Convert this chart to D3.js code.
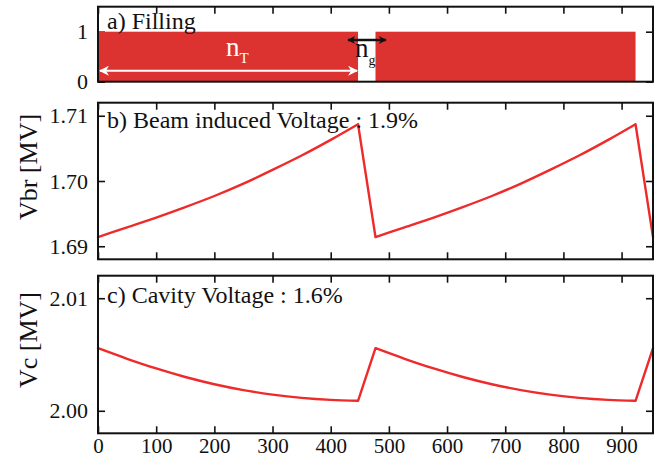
<!DOCTYPE html>
<html>
<head>
<meta charset="utf-8">
<script src="https://cdn.jsdelivr.net/npm/d3@7"></script>
</head>
<body style="margin:0">
<svg id="chart" width="663" height="461"></svg>
<script>
// bunch trains (start, end) in bunch index
var trainStart = [ 0, 477 ],
    trainEnd   = [ 447, 924 ],
    xTicks     = [ 0, 100, 200, 300, 400, 500, 600, 700, 800, 900 ];

// bunch index sampled along both trains
var bunchIndex = [ 0, 50, 100, 150, 200, 250, 300, 350, 400, 447,
                   477, 527, 577, 627, 677, 727, 777, 827, 877, 924, 954 ];

// beam induced voltage [MV]
var vbr = [ 1.6914, 1.6929, 1.6944, 1.6960, 1.6977, 1.6996, 1.7017, 1.7039, 1.7063, 1.7087,
            1.6914, 1.6929, 1.6944, 1.6960, 1.6977, 1.6996, 1.7017, 1.7039, 1.7063, 1.7087,
            1.6914 ];

// cavity voltage [MV]
var vc = [ 2.00556, 2.00462, 2.00376, 2.00300, 2.00236, 2.00184, 2.00144, 2.00115, 2.00097, 2.00089,
           2.00556, 2.00462, 2.00376, 2.00300, 2.00236, 2.00184, 2.00144, 2.00115, 2.00097, 2.00089,
           2.00556 ];

var fillTicks = [ 0, 1 ],
    vbrTicks  = [ 1.69, 1.70, 1.71 ],
    vcTicks   = [ 2.00, 2.01 ];

var red  = '#ee2a2a',
    fill = '#dc3330',
    font = '"Liberation Serif"',
    left = 98, right = 653;

var svg = d3.select( '#chart' );

var x = d3.scaleLinear().domain( [ 0, 954 ] ).range( [ left, right ] );

var panels = [
  { top: 6.7,   bottom: 81.7,  domain: [ 0, 1.5 ],       ticks: fillTicks, fmt: d3.format( 'd' ) },
  { top: 102.7, bottom: 259.3, domain: [ 1.688, 1.712 ], ticks: vbrTicks,  fmt: d3.format( '.2f' ) },
  { top: 275.7, bottom: 433.3, domain: [ 1.998, 2.012 ], ticks: vcTicks,   fmt: d3.format( '.2f' ) }
];

panels.forEach( function( p ) {
  p.y = d3.scaleLinear().domain( p.domain ).range( [ p.bottom, p.top ] );
} );

function styleAxis( size ) {
  return function( g ) {
    g.attr( 'font-family', null ).attr( 'font-size', null );
    g.select( '.domain' ).remove();
    g.selectAll( 'line' ).attr( 'stroke', '#111' ).attr( 'stroke-width', 1.6 );
    g.selectAll( 'text' )
      .style( 'font-family', font )
      .attr( 'font-size', size )
      .attr( 'fill', '#111' );
  };
}

function drawAxes( p, i ) {
  var g = svg.append( 'g' );
  g.append( 'g' )
    .attr( 'transform', 'translate(0,' + p.bottom + ')' )
    .call( d3.axisBottom( x ).tickValues( xTicks ).tickSize( -7 ).tickPadding( 4.5 )
      .tickFormat( i === 2 ? d3.format( 'd' ) : '' ) )
    .call( styleAxis( 21 ) );
  g.append( 'g' )
    .attr( 'transform', 'translate(0,' + p.top + ')' )
    .call( d3.axisTop( x ).tickValues( xTicks ).tickSize( -7 ).tickFormat( '' ) )
    .call( styleAxis( 21 ) );
  g.append( 'g' )
    .attr( 'transform', 'translate(' + left + ',0)' )
    .call( d3.axisLeft( p.y ).tickValues( p.ticks ).tickSize( -7 ).tickPadding( 10 ).tickFormat( p.fmt ) )
    .call( styleAxis( 22 ) );
  g.append( 'g' )
    .attr( 'transform', 'translate(' + right + ',0)' )
    .call( d3.axisRight( p.y ).tickValues( p.ticks ).tickSize( -7 ).tickFormat( '' ) )
    .call( styleAxis( 22 ) );
}

panels.forEach( drawAxes );

// a) filling pattern
var pa = panels[ 0 ];
svg.append( 'g' ).selectAll( 'rect' )
  .data( d3.range( trainStart.length ) )
  .enter().append( 'rect' )
  .attr( 'x', function( i ) { return x( trainStart[ i ] ); } )
  .attr( 'width', function( i ) { return x( trainEnd[ i ] ) - x( trainStart[ i ] ); } )
  .attr( 'y', pa.y( 1 ) )
  .attr( 'height', pa.y( 0 ) - pa.y( 1 ) )
  .attr( 'fill', fill );

// b) and c) voltage lines, smooth inside a train, straight across the gaps
var pts = bunchIndex.map( function( d, i ) { return { n: d, vbr: vbr[ i ], vc: vc[ i ] }; } );

var cuts = [ 0, 9, 10, 19, 20 ],
    segments = [];
for ( var s = 0; s < cuts.length - 1; s++ ) {
  segments.push( pts.slice( cuts[ s ], cuts[ s + 1 ] + 1 ) );
}

[ [ 1, 'vbr' ], [ 2, 'vc' ] ].forEach( function( c ) {
  var y = panels[ c[ 0 ] ].y,
      line = d3.line()
        .curve( d3.curveMonotoneX )
        .x( function( d ) { return x( d.n ); } )
        .y( function( d ) { return y( d[ c[ 1 ] ] ); } );

  svg.append( 'path' )
    .attr( 'fill', 'none' )
    .attr( 'stroke', red )
    .attr( 'stroke-width', 2.4 )
    .attr( 'stroke-linecap', 'round' )
    .attr( 'd', segments.map( function( seg ) { return line( seg ); } ).join( '' ) );
} );

// frames
panels.forEach( function( p ) {
  svg.append( 'rect' )
    .attr( 'x', left ).attr( 'y', p.top )
    .attr( 'width', right - left ).attr( 'height', p.bottom - p.top )
    .attr( 'fill', 'none' ).attr( 'stroke', '#111' ).attr( 'stroke-width', 2 );
} );

// arrow markers
var defs = svg.append( 'defs' );
[ [ 'wArrow', '#fff', 12, 10 ], [ 'bArrow', '#111', 9, 8 ] ].forEach( function( m ) {
  defs.append( 'marker' )
    .attr( 'id', m[ 0 ] )
    .attr( 'viewBox', '0 -5 10 10' )
    .attr( 'refX', 9 ).attr( 'refY', 0 )
    .attr( 'markerUnits', 'userSpaceOnUse' )
    .attr( 'markerWidth', m[ 2 ] ).attr( 'markerHeight', m[ 3 ] )
    .attr( 'orient', 'auto-start-reverse' )
    .append( 'path' )
    .attr( 'd', 'M0,-5 L10,0 L0,5 L3,0 Z' )
    .attr( 'fill', m[ 1 ] );
} );

function addText( xPos, yPos, size, colour ) {
  return svg.append( 'text' )
    .attr( 'x', xPos ).attr( 'y', yPos )
    .attr( 'fill', colour || '#111' )
    .attr( 'font-size', size )
    .style( 'font-family', font );
}

// n_T arrow
svg.append( 'line' )
  .attr( 'x1', x( 0 ) + 2 ).attr( 'x2', x( trainEnd[ 0 ] ) - 1 )
  .attr( 'y1', 70.7 ).attr( 'y2', 70.7 )
  .attr( 'stroke', '#fff' ).attr( 'stroke-width', 2 )
  .attr( 'marker-start', 'url(#wArrow)' ).attr( 'marker-end', 'url(#wArrow)' );

var nT = addText( 226, 56, 27, '#fff' );
nT.append( 'tspan' ).text( 'n' );
nT.append( 'tspan' ).attr( 'font-size', 15 ).attr( 'dy', 7 ).text( 'T' );

// n_g arrow
svg.append( 'line' )
  .attr( 'x1', 348 ).attr( 'x2', 386 )
  .attr( 'y1', 40 ).attr( 'y2', 40 )
  .attr( 'stroke', '#111' ).attr( 'stroke-width', 2.5 )
  .attr( 'marker-start', 'url(#bArrow)' ).attr( 'marker-end', 'url(#bArrow)' );

var ng = addText( 355, 56.5, 27 );
ng.append( 'tspan' ).text( 'n' );
ng.append( 'tspan' ).attr( 'font-size', 14 ).attr( 'dy', 8 ).text( 'g' );

// panel titles
[ [ 'a) Filling', 29 ], [ 'b) Beam induced Voltage : 1.9%', 128 ], [ 'c) Cavity Voltage : 1.6%', 303 ] ]
  .forEach( function( t ) {
    addText( 107, t[ 1 ], 24 ).text( t[ 0 ] );
  } );

// y labels
[ [ 'Vbr [MV]', 167 ], [ 'Vc [MV]', 340 ] ].forEach( function( l ) {
  addText( 0, 0, 26 )
    .attr( 'transform', 'translate(37,' + l[ 1 ] + ') rotate(-90)' )
    .attr( 'text-anchor', 'middle' )
    .text( l[ 0 ] );
} );
</script>
</body>
</html>
